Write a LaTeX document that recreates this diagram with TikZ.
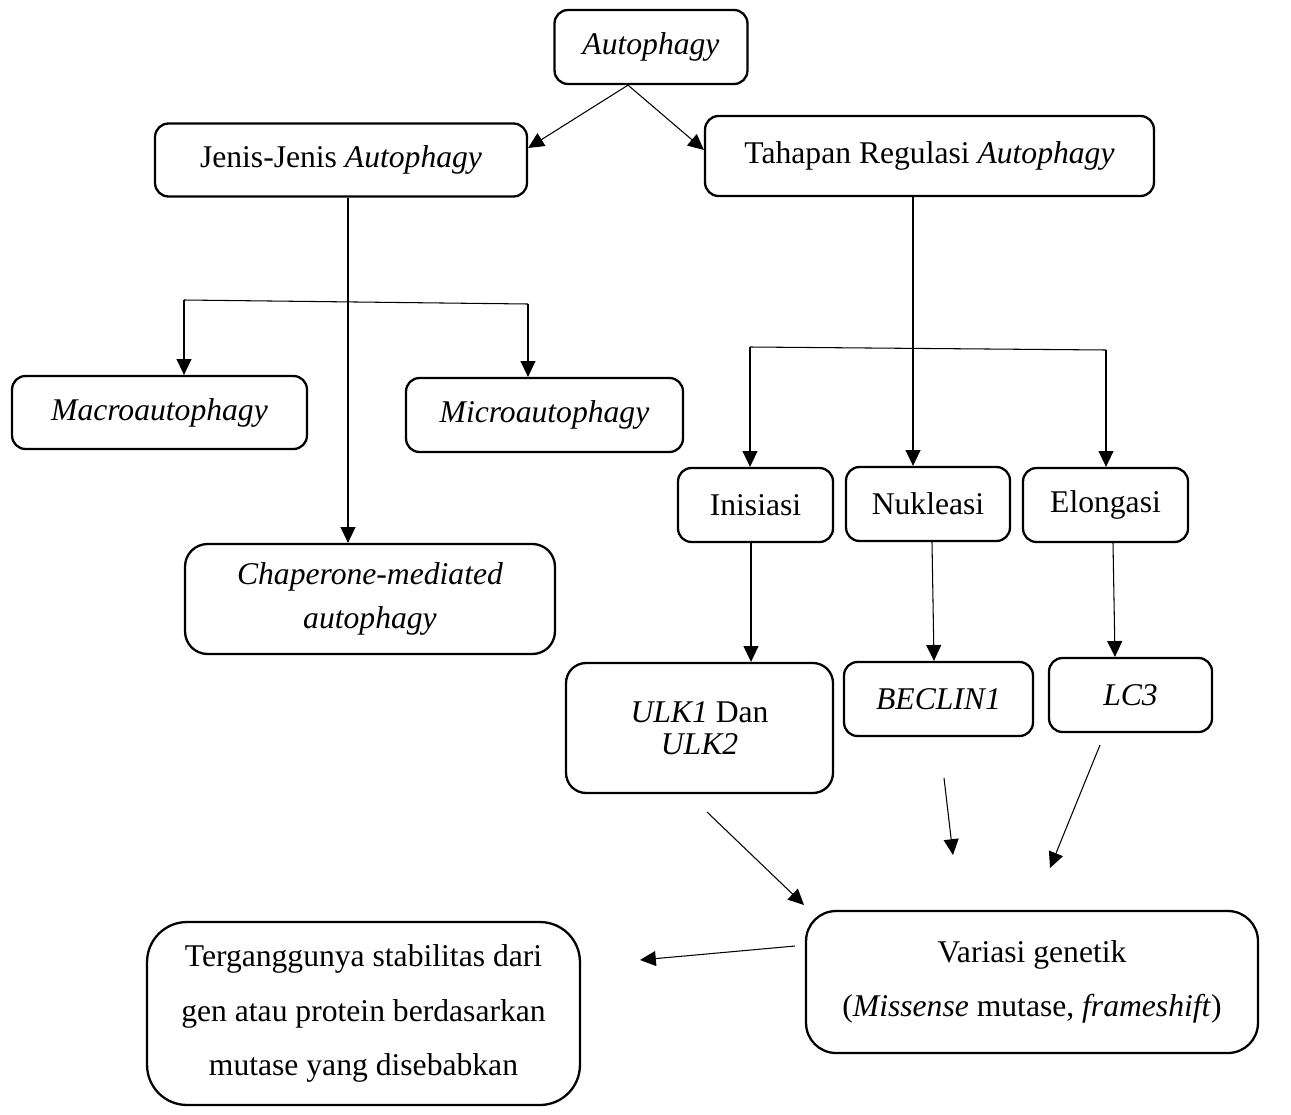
\documentclass[tikz,border=0pt]{standalone}
\usepackage{fontspec}
\setmainfont{Liberation Serif}
\usetikzlibrary{arrows.meta,positioning}

\begin{document}
\begin{tikzpicture}[x=0.02cm,y=-0.02cm,
  box/.style={draw,rounded corners=0.27cm,line width=1.3pt,align=center,inner sep=0pt,font=\fontsize{18}{22}\selectfont},
  arr/.style={-{Triangle[length=9pt,width=8.5pt]},line width=0.6pt},
  ln/.style={line width=0.6pt}]
\useasboundingbox (0,0) rectangle (1291,1115);
% boxes
\node[box,minimum width=3.86cm,minimum height=1.48cm] (aut) at (651,47) {\textit{Autophagy}};
\node[box,minimum width=7.44cm,minimum height=1.46cm] (jen) at (341,160) {Jenis-Jenis \textit{Autophagy}};
\node[box,minimum width=8.98cm,minimum height=1.6cm] (tah) at (929.5,156) {Tahapan Regulasi \textit{Autophagy}};
\node[box,minimum width=5.9cm,minimum height=1.46cm] (mac) at (159.5,412.5) {\textit{Macroautophagy}};
\node[box,minimum width=5.54cm,minimum height=1.48cm] (mic) at (544.5,415) {\textit{Microautophagy}};
\node[box,rounded corners=0.45cm,minimum width=7.4cm,minimum height=2.2cm] (cha) at (370,599) {\textit{Chaperone-mediated}\\[3pt]\textit{autophagy}};
\node[box,minimum width=3.1cm,minimum height=1.48cm] (ini) at (755.5,505) {Inisiasi};
\node[box,minimum width=3.28cm,minimum height=1.48cm] (nuk) at (928,504) {Nukleasi};
\node[box,minimum width=3.3cm,minimum height=1.48cm] (elo) at (1105.5,505) {Elongasi};
\node[box,rounded corners=0.4cm,minimum width=5.34cm,minimum height=2.6cm] (ulk) at (699.5,728) {\textit{ULK1} Dan\\[-4pt]\textit{ULK2}};
\node[box,minimum width=3.78cm,minimum height=1.48cm] (bec) at (938.5,699) {\textit{BECLIN1}};
\node[box,minimum width=3.26cm,minimum height=1.48cm] (lc) at (1130.5,695) {\textit{LC3}};
\node[box,rounded corners=0.6cm,minimum width=9.04cm,minimum height=2.84cm] (var) at (1032,982) {Variasi genetik\\[9pt](\textit{Missense} mutase, \textit{frameshift})};
\node[box,rounded corners=0.8cm,minimum width=8.66cm,minimum height=3.66cm] (ter) at (363.5,1013.5) {Terganggunya stabilitas dari\\[9pt]gen atau protein berdasarkan\\[9pt]mutase yang disebabkan};
% branch points and loose ends
\coordinate (m1) at (184,300);
\coordinate (m2) at (528,304);
\coordinate (s1) at (750,347);
\coordinate (s2) at (1106,350);
\coordinate (u1) at (707,812);
\coordinate (u2) at (804,905);
\coordinate (b1) at (944,778);
\coordinate (b2) at (953,855);
\coordinate (c1) at (1100,745);
\coordinate (c2) at (1050,868);
\coordinate (v1) at (795,946);
\coordinate (v2) at (640,960);
% connectors
\draw[arr] ([xshift=-0.46cm]aut.south) -- ([yshift=0.24cm]jen.east);
\draw[arr] ([xshift=-0.46cm]aut.south) -- ([yshift=0.12cm]tah.west);
\draw[arr] ([xshift=0.14cm]jen.south) -- ([xshift=0.14cm]jen.south |- cha.north);
\draw[ln] (m1) -- (m2);
\draw[arr] (m1) -- (m1 |- mac.north);
\draw[arr] (m2) -- (m2 |- mic.north);
\draw[arr] ([xshift=-0.33cm]tah.south) -- ([xshift=-0.33cm]tah.south |- nuk.north);
\draw[ln] (s1) -- (s2);
\draw[arr] (s1) -- (s1 |- ini.north);
\draw[arr] (s2) -- (s2 |- elo.north);
\draw[arr] ([xshift=-0.09cm]ini.south) -- ([xshift=-0.09cm]ini.south |- ulk.north);
\draw[arr] ([xshift=0.08cm]nuk.south) -- ([xshift=-0.09cm]bec.north);
\draw[arr] ([xshift=0.15cm]elo.south) -- ([xshift=-0.31cm]lc.north);
\draw[arr] (u1) -- (u2);
\draw[arr] (b1) -- (b2);
\draw[arr] (c1) -- (c2);
\draw[arr] (v1) -- (v2);
\end{tikzpicture}
\end{document}
